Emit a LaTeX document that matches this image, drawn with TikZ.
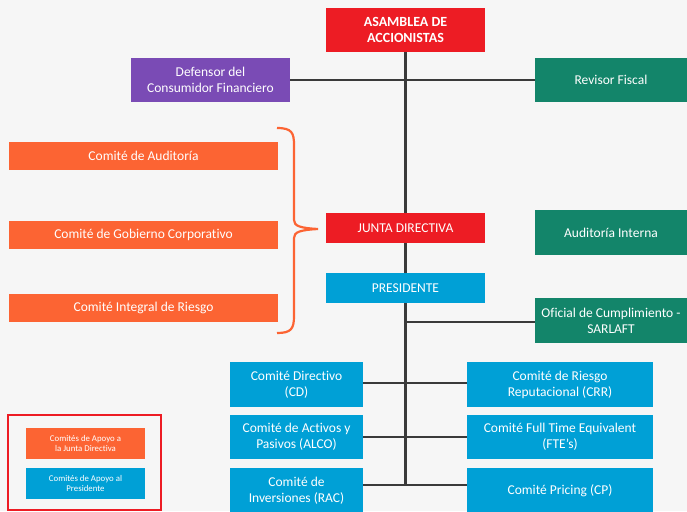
\documentclass[tikz,border=0pt]{standalone}
\usepackage{fontspec}
\setmainfont{Carlito}[Ligatures={NoCommon}]
\usetikzlibrary{backgrounds}
\definecolor{bg}{HTML}{F6F6F6}
\definecolor{cred}{HTML}{ED1C24}
\definecolor{cpurple}{HTML}{7A4BB5}
\definecolor{cgreen}{HTML}{13856A}
\definecolor{corange}{HTML}{FC6433}
\definecolor{cblue}{HTML}{00A0D6}
\definecolor{cline}{HTML}{3A3A3A}
\tikzset{
  box/.style={rectangle, inner sep=1pt, text=white, align=center, font=\fontsize{13.5}{16}\selectfont},
  legbox/.style={box, minimum width=119pt, minimum height=31pt, font=\fontsize{8.8}{10.5}\selectfont},
  conn/.style={draw=cline, line width=2.2pt},
}
\begin{document}
\begin{tikzpicture}[x=1pt,y=-1pt]
\useasboundingbox (0,0) rectangle (687,511);
% top
\node[box, fill=cred, minimum width=159pt, minimum height=44pt, font=\bfseries\fontsize{14}{16.5}\selectfont] (asamblea) at (405.5,30) {ASAMBLEA DE\\ACCIONISTAS};
\node[box, fill=cpurple, minimum width=159pt, minimum height=44pt] (defensor) at (210.5,80) {Defensor del\\Consumidor Financiero};
\node[box, fill=cgreen, minimum width=152pt, minimum height=44pt] (revisor) at (611,80) {Revisor Fiscal};
% junta committees
\node[box, fill=corange, minimum width=269pt, minimum height=28pt] (aud) at (143.5,156) {Comité de Auditoría};
\node[box, fill=corange, minimum width=269pt, minimum height=28pt] (gob) at (143.5,235) {Comité de Gobierno Corporativo};
\node[box, fill=corange, minimum width=269pt, minimum height=28pt] (integ) at (143.5,308) {Comité Integral de Riesgo};
% centre
\node[box, fill=cred, minimum width=159pt, minimum height=30pt] (junta) at (405.5,228) {JUNTA DIRECTIVA};
\node[box, fill=cgreen, minimum width=152pt, minimum height=45pt] (audint) at (611,232.5) {Auditoría Interna};
\node[box, fill=cblue, minimum width=159pt, minimum height=30pt] (pres) at (405.5,288) {PRESIDENTE};
\node[box, fill=cgreen, minimum width=152pt, minimum height=45pt] (oficial) at (611,320.5) {Oficial de Cumplimiento -\\SARLAFT};
% president committees
\node[box, fill=cblue, minimum width=133pt, minimum height=45pt] (cd) at (296.5,384.5) {Comité Directivo\\(CD)};
\node[box, fill=cblue, minimum width=186pt, minimum height=45pt] (crr) at (560,384.5) {Comité de Riesgo\\Reputacional (CRR)};
\node[box, fill=cblue, minimum width=133pt, minimum height=44pt] (alco) at (296.5,437) {Comité de Activos y\\Pasivos (ALCO)};
\node[box, fill=cblue, minimum width=186pt, minimum height=44pt] (fte) at (560,437) {Comité Full Time Equivalent\\(FTE's)};
\node[box, fill=cblue, minimum width=133pt, minimum height=46pt] (rac) at (296.5,491) {Comité de\\Inversiones (RAC)};
\node[box, fill=cblue, minimum width=186pt, minimum height=46pt] (cp) at (560,491) {Comité Pricing (CP)};
% legend
\node[draw=cred, line width=2pt, minimum width=153pt, minimum height=95pt, inner sep=0pt] (legend) at (84.5,462.5) {};
\node[legbox, fill=corange] (leg1) at (85.5,443.5) {Comités de Apoyo a\\la Junta Directiva};
\node[legbox, fill=cblue] (leg2) at (85.5,483.5) {Comités de Apoyo al\\Presidente};
% connectors
\coordinate (bot) at (405.5,485);
\begin{scope}[on background layer]
\fill[bg] (0,0) rectangle (687,511);
\draw[conn] (asamblea.south) -- (bot);
\draw[conn] (defensor.east) -- (revisor.west);
\draw[conn] (oficial.west |- 0,322) -- (asamblea.south |- 0,322);
\draw[conn] (cd.east |- 0,383) -- (crr.west |- 0,383);
\draw[conn] (alco.east |- 0,437) -- (fte.west |- 0,437);
\draw[conn] (rac.east |- bot) -- (cp.west |- bot);
\end{scope}
% brace
\draw[corange, line width=2.2pt, line join=miter] (277,128) .. controls (292,128) and (294,133) .. (294,145) -- (294,220) .. controls (294,226) and (300,228) .. (318,229) .. controls (300,230) and (294,232) .. (294,238) -- (294,316) .. controls (294,329) and (291,333) .. (277,333);
\end{tikzpicture}
\end{document}
